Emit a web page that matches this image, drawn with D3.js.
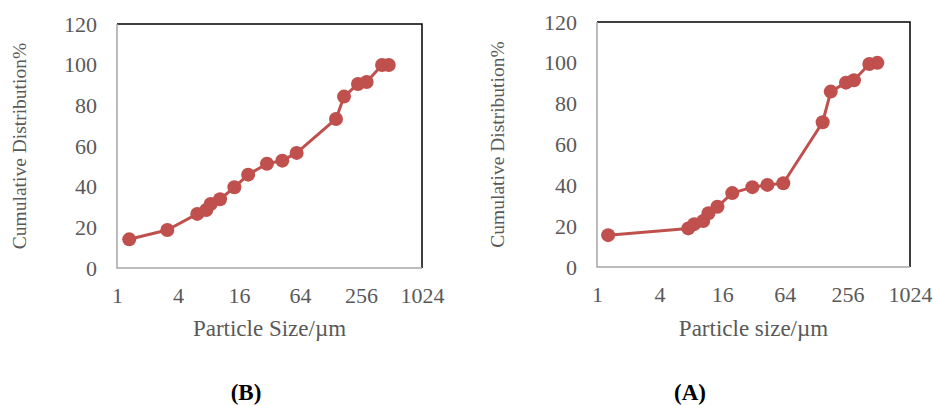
<!DOCTYPE html>
<html>
<head>
<meta charset="utf-8">
<script src="https://cdn.jsdelivr.net/npm/d3@7"></script>
<style>
  body { margin: 0; background: #fff; }
  svg text { font-family: "Liberation Serif", "Times New Roman", serif !important; }
</style>
</head>
<body>
<div id="chart-area"></div>
<script>
// panel (B) data
const sizeB = [1.32, 3.14, 6.2, 7.6, 8.4, 10.4, 14.4, 19.7, 30.2, 42.8, 59.3, 145, 174, 239, 291, 413, 481];
const cumB = [14.1, 18.7, 26.6, 28.5, 31.5, 33.8, 39.7, 45.9, 51.3, 52.8, 56.6, 73.3, 84.3, 90.5, 91.5, 99.8, 99.8];

// panel (A) data
const sizeA = [1.28, 7.55, 8.6, 10.5, 11.8, 14.4, 20, 31.2, 43.5, 61.9, 148, 177, 248, 296, 416, 497];
const cumA = [15.6, 18.9, 21.0, 22.5, 26.3, 29.5, 36.2, 39.1, 40.2, 41.0, 70.9, 85.9, 90.3, 91.5, 99.4, 100];

const xTicks = [1, 4, 16, 64, 256, 1024];
const yTicks = [0, 20, 40, 60, 80, 100, 120];

const COLOR = "#c0504d";
const GREY = "#595959";

const svg = d3.select("#chart-area").append("svg")
    .attr("width", 934)
    .attr("height", 405);

const panels = [
    { sizes: sizeB, cum: cumB, left: 117, right: 422, top: 24, bottom: 268,
      yTitleX: 19, xTitle: "Particle Size/\u00b5m", tag: "(B)", tagX: 246 },
    { sizes: sizeA, cum: cumA, left: 597, right: 910, top: 22, bottom: 267,
      yTitleX: 497, xTitle: "Particle size/\u00b5m", tag: "(A)", tagX: 690 }
];

panels.forEach(p => {
    const x = d3.scaleLog().base(2)
        .domain([1, 1024])
        .range([p.left, p.right]);
    const y = d3.scaleLinear()
        .domain([0, 120])
        .range([p.bottom, p.top]);

    // x axis labels
    const xAxis = svg.append("g")
        .attr("transform", `translate(0, ${p.bottom})`)
        .call(d3.axisBottom(x).tickValues(xTicks).tickFormat(d3.format("d")).tickSize(0).tickPadding(19));
    xAxis.select(".domain").remove();
    xAxis.selectAll("text")
        .style("font-size", "22px")
        .attr("fill", GREY);

    // y axis labels
    const yAxis = svg.append("g")
        .attr("transform", `translate(${p.left}, 0)`)
        .call(d3.axisLeft(y).tickValues(yTicks).tickSize(0).tickPadding(20));
    yAxis.select(".domain").remove();
    yAxis.selectAll("text")
        .style("font-size", "22px")
        .attr("fill", GREY);

    // frame: grey axis lines, dark top/right edge
    svg.append("path")
        .attr("d", `M${p.left},${p.top}H${p.right}V${p.bottom}`)
        .attr("fill", "none")
        .attr("stroke", "#000")
        .attr("stroke-width", 1.5);
    svg.append("path")
        .attr("d", `M${p.left},${p.top}V${p.bottom}H${p.right}`)
        .attr("fill", "none")
        .attr("stroke", "#a6a6a6")
        .attr("stroke-width", 1.5);

    const pts = p.sizes.map((s, i) => ({ s: s, c: p.cum[i] }));

    const line = d3.line()
        .x(d => x(d.s))
        .y(d => y(d.c));

    svg.append("path")
        .datum(pts)
        .attr("d", line)
        .attr("fill", "none")
        .attr("stroke", COLOR)
        .attr("stroke-width", 3)
        .attr("stroke-linejoin", "round");

    svg.append("g").selectAll("circle")
        .data(pts)
        .enter().append("circle")
        .attr("cx", d => x(d.s))
        .attr("cy", d => y(d.c))
        .attr("r", 7)
        .attr("fill", COLOR);

    // axis titles
    svg.append("text")
        .attr("x", (p.left + p.right) / 2)
        .attr("y", 336)
        .attr("text-anchor", "middle")
        .style("font-size", "23px")
        .attr("fill", GREY)
        .text(p.xTitle);

    svg.append("text")
        .attr("transform", `translate(${p.yTitleX}, ${(p.top + p.bottom) / 2}) rotate(-90)`)
        .attr("dy", "0.35em")
        .attr("text-anchor", "middle")
        .style("font-size", "19.5px")
        .attr("fill", GREY)
        .text("Cumulative Distribution%");

    // panel tag
    svg.append("text")
        .attr("x", p.tagX)
        .attr("y", 400)
        .attr("text-anchor", "middle")
        .style("font-size", "23px")
        .attr("font-weight", "bold")
        .attr("fill", "#000")
        .text(p.tag);
});
</script>
</body>
</html>
